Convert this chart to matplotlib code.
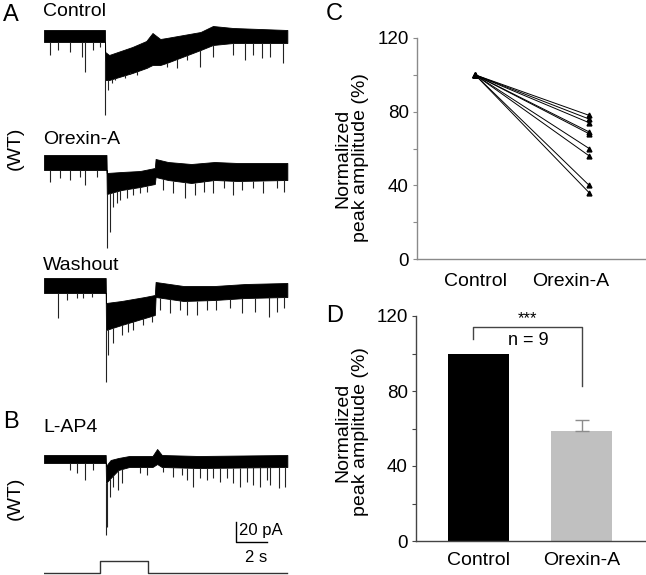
import numpy as np
import matplotlib
matplotlib.use("Agg")
import matplotlib.pyplot as plt

plt.rcParams['font.family'] = ['Liberation Sans', 'DejaVu Sans']

W, H = 646, 575

# ---- traces (time in s, current in pA, 0 = resting level) ----
# each trace: envelope breakpoints (upper / lower edge of the noise band) + downward events
ctrl_t = [0, 3.93, 3.95, 4.2, 5.7, 6.6, 7.0, 7.5, 7.9, 10.1, 10.9, 12.2, 15.7]
ctrl_hi = [5, 5, -17, -20, -12, -6, 2, -4, -3, 3, 9, 7, 5]
ctrl_lo = [-7, -7, -45, -45, -38, -33, -30, -30, -28, -15, -10, -8, -8]
ctrl_spk_t = [0.39, 0.92, 1.68, 2.43, 2.65, 3.18, 3.61, 3.94, 4.15, 4.37, 4.58, 4.8, 5.23,
              5.55, 5.98, 6.62, 7.27, 7.91, 8.56, 9.2, 10.06, 10.9, 12.2, 12.97, 13.5,
              14.04, 14.58, 15.4]
ctrl_spk_i = [-20, -15, -17, -22, -37, -15, -12, -80, -55, -48, -45, -42, -43,
              -37, -40, -32, -30, -32, -33, -25, -32, -22, -20, -25, -20,
              -23, -22, -28]

orx_t = [0, 4.03, 4.05, 5.0, 6.2, 7.15, 7.2, 8.0, 9.5, 11.0, 12.5, 15.7]
orx_hi = [7, 7, -11, -10, -9, -6, 3, 0, -2, 0, -1, -1]
orx_lo = [-8, -8, -32, -28, -25, -22, -15, -18, -21, -18, -19, -18]
orx_spk_t = [0.39, 1.03, 1.68, 2.32, 2.65, 3.4, 4.05, 4.26, 4.47, 4.69, 4.9, 5.33, 5.76,
             6.19, 6.62, 7.7, 8.34, 9.1, 9.74, 10.3, 10.9, 11.6, 12.2, 12.75, 13.5,
             14.1, 15.0, 15.5]
orx_spk_i = [-20, -16, -18, -15, -23, -15, -86, -70, -45, -41, -38, -36, -33,
             -31, -30, -28, -31, -36, -33, -30, -31, -26, -33, -28, -26,
             -31, -26, -30]

wash_t = [0, 3.98, 4.0, 5.0, 6.5, 7.15, 7.2, 9.0, 11.0, 13.0, 15.7]
wash_hi = [7, 7, -18, -16, -12, -10, 3, -1, -1, 1, 2]
wash_lo = [-8, -8, -45, -40, -33, -30, -12, -16, -15, -13, -12]
wash_spk_t = [0.9, 1.46, 2.1, 2.54, 3.08, 4.0, 4.15, 4.47, 5.0, 5.44, 5.76, 6.4, 6.95,
              7.5, 8.13, 8.77, 9.2, 9.84, 10.5, 11.1, 12.0, 12.75, 13.6, 14.5, 15.0, 15.5]
wash_spk_i = [-33, -15, -13, -13, -12, -97, -70, -58, -50, -47, -45, -40, -37,
              -25, -28, -25, -30, -30, -25, -25, -23, -28, -27, -32, -27, -23]

lap_t = [0, 3.98, 4.0, 4.3, 4.8, 5.5, 7.0, 7.3, 7.6, 10.0, 15.7]
lap_hi = [3, 3, -8, -2, 0, 2, 2, 9, 3, 2, 3]
lap_lo = [-5, -5, -25, -20, -12, -9, -9, -6, -9, -10, -9]
lap_spk_t = [1.68, 2.1, 2.65, 3.18, 4.0, 4.08, 4.26, 4.47, 4.8, 5.0, 6.2, 6.62, 7.7,
             8.34, 8.88, 9.2, 9.63, 10.06, 10.5, 10.9, 11.35, 11.8, 12.2, 12.64, 13.07,
             13.5, 13.94, 14.37, 14.58, 15.18, 15.55]
lap_spk_i = [-12, -15, -22, -12, -77, -69, -39, -29, -32, -25, -15, -17, -14,
             -19, -17, -22, -29, -20, -22, -20, -24, -20, -25, -29, -24,
             -27, -29, -22, -27, -30, -29]

stim_on, stim_off, trace_end = 3.6, 6.7, 15.7

# ---- summary data ----
conditions = ['Control', 'Orexin-A']
orexin_each = [78, 76, 74, 69, 68, 60, 56, 40, 36]
control_each = [100] * len(orexin_each)
bar_mean = [100, 58.5]
bar_sem = [0, 6]
n_cells = 9

fig = plt.figure(figsize=(W / 100, H / 100), dpi=100)


def px_axes(x0, y0, x1, y1):
    return fig.add_axes([x0 / W, 1 - y1 / H, (x1 - x0) / W, (y1 - y0) / H])


def trace_axes(y_base):
    # 1 pA = 1 px, 1 s = 15.5 px
    ax = px_axes(44, y_base - 15, 44 + 16 * 15.5, y_base + 100)
    ax.set_xlim(0, 16)
    ax.set_ylim(-100, 15)
    ax.axis('off')
    return ax


def draw_trace(ax, t, hi, lo, spk_t, spk_i):
    ax.fill_between(t, lo, hi, color='black', lw=0.6, edgecolor='black')
    base = np.interp(spk_t, t, lo)
    ax.vlines(spk_t, spk_i, base, color='#222222', lw=0.8)


a1 = trace_axes(35)
draw_trace(a1, ctrl_t, ctrl_hi, ctrl_lo, ctrl_spk_t, ctrl_spk_i)
a2 = trace_axes(162)
draw_trace(a2, orx_t, orx_hi, orx_lo, orx_spk_t, orx_spk_i)
a3 = trace_axes(285)
draw_trace(a3, wash_t, wash_hi, wash_lo, wash_spk_t, wash_spk_i)
a4 = trace_axes(458)
draw_trace(a4, lap_t, lap_hi, lap_lo, lap_spk_t, lap_spk_i)

# scale bar 20 pA / 2 s
sb_t, sb_i = 12.4, -84
a4.plot([sb_t, sb_t, sb_t + 2], [sb_i + 20, sb_i, sb_i], color='black', lw=1, clip_on=False)
a4.text(sb_t + 0.2, sb_i + 12, '20 pA', fontsize=12, va='center', ha='left')
a4.text(sb_t + 1.3, sb_i - 15, '2 s', fontsize=12, va='center', ha='center')

# stimulus
ast = px_axes(44, 558, 44 + 16 * 15.5, 576)
ast.set_xlim(0, 16)
ast.set_ylim(-0.25, 1.25)
ast.axis('off')
ast.plot([0, stim_on, stim_on, stim_off, stim_off, trace_end], [0, 0, 1, 1, 0, 0], color='#333333', lw=1)

# trace labels
fig.text(43 / W, 1 - 12 / H, 'Control', fontsize=14, va='center')
fig.text(43 / W, 1 - 140 / H, 'Orexin-A', fontsize=14, va='center')
fig.text(43 / W, 1 - 265 / H, 'Washout', fontsize=14, va='center')
fig.text(43 / W, 1 - 428 / H, 'L-AP4', fontsize=14, va='center')
fig.text(15 / W, 1 - 148 / H, '(WT)', fontsize=14, rotation=90, ha='center', va='center')
fig.text(15 / W, 1 - 498 / H, '(WT)', fontsize=14, rotation=90, ha='center', va='center')

# panel letters
for letter, x, y in [('A', 11, 15), ('B', 11, 422), ('C', 334, 14), ('D', 335, 316)]:
    fig.text(x / W, 1 - y / H, letter, fontsize=17, ha='center', va='center')

ylab = 'Normalized\npeak amplitude (%)'


def style_axis(ax, spine_col):
    ax.spines['top'].set_visible(False)
    ax.spines['right'].set_visible(False)
    for s in ['left', 'bottom']:
        ax.spines[s].set_color(spine_col)
        ax.spines[s].set_linewidth(1)
    ax.set_ylim(0, 120)
    ax.set_yticks([0, 40, 80, 120])
    ax.set_yticks([20, 60, 100], minor=True)
    ax.tick_params(axis='y', which='both', direction='out', length=3, width=0.8,
                   color=spine_col, labelsize=13.5, pad=3)
    ax.tick_params(axis='x', length=0, labelsize=14)


# ---- panel C ----
axc = px_axes(417, 38, 645, 259)
style_axis(axc, '#8a8a8a')
axc.set_xlim(-0.51, 1.49)
for c, o in zip(control_each, orexin_each):
    axc.plot([0, 1], [c, o], color='black', lw=0.7, marker='^', markersize=3.5)
axc.set_xticks([0, 0.84])  # labels sit slightly left of the Orexin-A points
axc.set_xticklabels(conditions)
axc.tick_params(axis='x', pad=10)
fig.text(352 / W, 1 - 158 / H, ylab, fontsize=14, rotation=90, ha='center', va='center',
         multialignment='center', linespacing=1.05)

# ---- panel D ----
axd = px_axes(416, 316, 645, 541)
style_axis(axd, '#444444')
axd.set_xlim(-0.6, 1.61)
axd.bar([0, 1], bar_mean, width=0.59, color=['black', '#c0c0c0'])
axd.errorbar(1, bar_mean[1], yerr=[[0], [bar_sem[1]]], color='#8c8c8c', lw=1, capsize=5, capthick=1)
axd.set_xticks([0, 1])
axd.set_xticklabels(conditions)
axd.tick_params(axis='x', pad=8)
top = 114
axd.plot([-0.05, -0.05, 1.0, 1.0], [bar_mean[0] + 8, top, top, bar_mean[1] + bar_sem[1] + 18],
         color='#444444', lw=1, clip_on=False)
axd.text(0.48, top + 4.5, '***', fontsize=12, ha='center', va='center')
axd.text(0.48, top - 7, 'n = %d' % n_cells, fontsize=13, ha='center', va='center')
fig.text(352 / W, 1 - 432 / H, ylab, fontsize=14, rotation=90, ha='center', va='center',
         multialignment='center', linespacing=1.05)

fig.savefig('out.png', dpi=100)
